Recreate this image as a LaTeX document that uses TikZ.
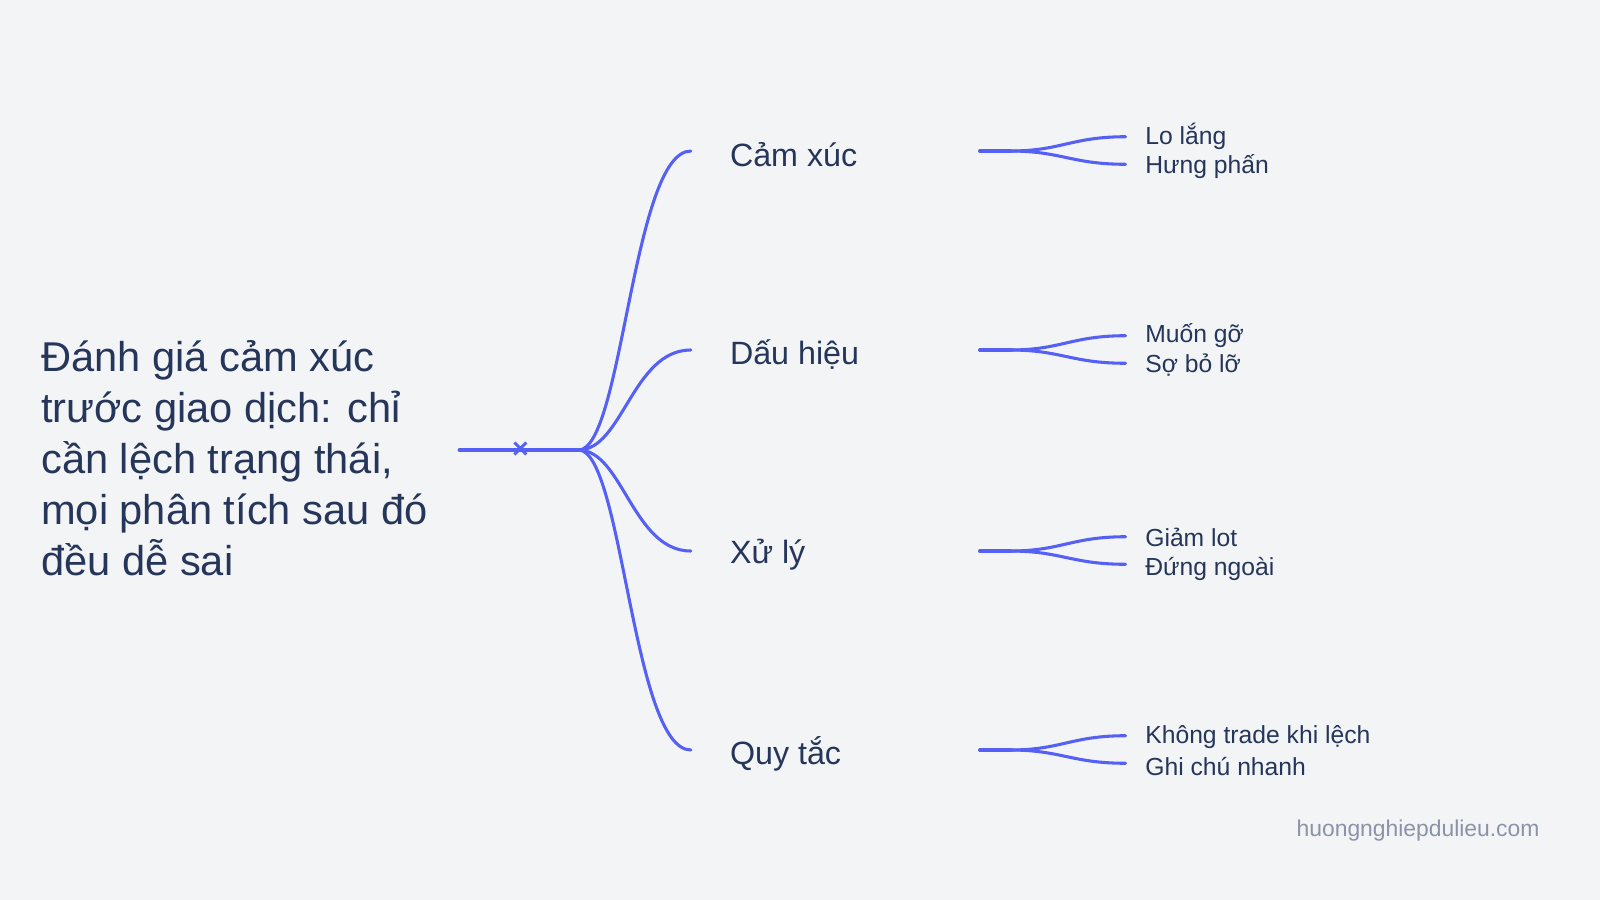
\documentclass[tikz,border=0pt]{standalone}
\usepackage{fontspec}
\setmainfont{Liberation Sans}
\usetikzlibrary{positioning}
\definecolor{bgc}{HTML}{F3F4F6}
\definecolor{linec}{HTML}{5560F5}
\definecolor{textc}{HTML}{25365A}
\definecolor{markc}{HTML}{8A93A8}

\begin{document}
\begin{tikzpicture}[x=0.5pt,y=-0.5pt,
    branch/.style={linec, line width=1.5pt, line cap=round},
    topic/.style={anchor=west, text=textc, font=\fontsize{15.8}{18}\selectfont, inner sep=0pt},
    leaf/.style={anchor=north west, text=textc, align=left, font=\fontsize{12.1}{14.5}\selectfont, inner sep=0pt}]
    \fill[bgc] (0,0) rectangle (1568,882);
    \useasboundingbox (0,0) rectangle (1568,882);

    \node[anchor=north west, text=textc, align=left, inner sep=0pt,
        font=\fontsize{20.4}{25}\selectfont] (title) at (40,333)
        {Đánh giá cảm xúc\\trước giao dịch: chỉ\\cần lệch trạng thái,\\mọi phân tích sau đó\\đều dễ sai};

    \coordinate (start) at (450,441);
    \coordinate (hub) at (567,441);
    \node[linec, font=\bfseries\fontsize{14}{14}\selectfont, inner sep=0pt] (cross) at (510,441) {×};
    \draw[branch] (start) -- (hub);

    % topics
    \foreach \name/\y/\txt in {t1/148/Cảm xúc, t2/343/Dấu hiệu, t3/540/Xử lý, t4/735/Quy tắc} {
        \coordinate (\name end) at (677,\y);
        \node[topic] (\name) at (715,\y+4) {\txt};
        \draw[branch] (hub) .. controls (610,441) and (620,\y) .. (\name end);
        \coordinate (\name fork) at (960,\y);
        \coordinate (\name mid) at (990,\y);
        \coordinate (\name up) at (1103,\y-14);
        \coordinate (\name down) at (1103,\y+13);
        \draw[branch] (\name fork) -- (\name mid);
        \draw[branch] (\name mid) .. controls (1040,\y) and (1050,\y-14) .. (\name up);
        \draw[branch] (\name mid) .. controls (1040,\y) and (1050,\y+13) .. (\name down);
    }

    \node[leaf] (l1) at (1122,120) {Lo lắng\\Hưng phấn};
    \node[leaf] (l2) at (1122,317) {Muốn gỡ\\Sợ bỏ lỡ};
    \node[leaf] (l3) at (1122,517) {Giảm lot\\Đứng ngoài};
    \node[leaf, font=\fontsize{12.1}{15.5}\selectfont] (l4) at (1122,711) {Không trade khi lệch\\Ghi chú nhanh};

    \node[anchor=east, text=markc, font=\fontsize{11.2}{13}\selectfont, inner sep=0pt] (site) at (1509,814) {huongnghiepdulieu.com};
\end{tikzpicture}
\end{document}
